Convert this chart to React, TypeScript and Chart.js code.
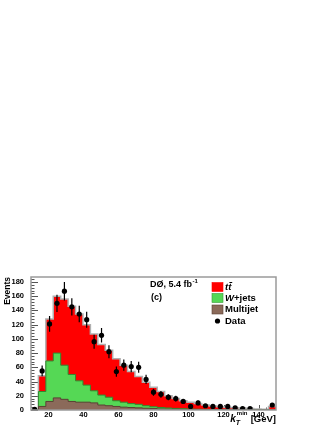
import React, { useEffect, useRef } from "react";
import { Chart, registerables } from "chart.js";

Chart.register(...registerables);

// ---- binning (k_T^min in GeV) ----
const X_MIN = 10;
const X_MAX = 150;
const N_BINS = 33;
const xTickValues = [20, 40, 60, 80, 100, 120, 140];
const yTickValues = [0, 20, 40, 60, 80, 100, 120, 140, 160, 180];
const Y_MAX = 187;

// ---- stacked contributions per bin ----
const multijet = [0, 5, 12, 17, 15, 12, 11, 11, 10, 7, 6, 5, 4, 3.5, 3, 2.5, 2, 1.5, 1.2, 1, 0.8, 0.6, 0.5, 0.4, 0.3, 0.3, 0.2, 0.2, 0.2, 0.1, 0.1, 0.1, 0.3];
const wjets = [0, 21, 57, 63, 48, 38, 30, 24, 17, 14, 12, 8, 7, 5.5, 5, 3.5, 2.5, 2, 1.6, 1.2, 1, 0.8, 0.6, 0.5, 0.4, 0.3, 0.3, 0.2, 0.1, 0.2, 0.1, 0.1, 0.3];
const ttbar = [0, 22, 59, 80, 93, 96, 94, 85, 80, 71, 66, 59, 52, 45, 39, 33, 27.5, 22.5, 17.2, 13.8, 11.2, 9.6, 7.9, 6.1, 4.8, 3.9, 3.0, 2.6, 2.2, 1.7, 1.3, 1.0, 4.4];

// ---- data ----
const dataCounts = [1, 55, 121, 150, 167, 145, 135, 127, 96, 105, 82, 54, 63, 61, 60, 43, 25, 22, 18, 16, 12, 5, 10, 6, 5, 5, 5, 3, 2, 2, null, null, 7];
const dataErrors = [1, 7.4, 11, 12.2, 12.9, 12, 11.6, 11.3, 9.8, 10.2, 9.1, 7.3, 7.9, 7.8, 7.7, 6.6, 5, 4.7, 4.2, 4, 3.5, 2.2, 3.2, 2.4, 2.2, 2.2, 2.2, 1.7, 1.4, 1.4, 0, 0, 2.6];

const FONT = "'Liberation Sans', Arial, Helvetica, sans-serif";
const RED = "#ff0000";
const GREEN = "#55d855";
const BROWN = "#8b6a5a";

const binWidth = (X_MAX - X_MIN) / N_BINS;
const edges = Array.from({ length: N_BINS + 1 }, (_, i) => X_MIN + i * binWidth);
const centers = edges.slice(0, N_BINS).map((e) => e + binWidth / 2);

function cumulative(...series: number[][]) {
  return series[0].map((_, i) => series.reduce((s, arr) => s + arr[i], 0));
}
function stepPoints(vals: number[]) {
  const pts = vals.map((v, i) => ({ x: edges[i], y: v }));
  pts.push({ x: edges[N_BINS], y: vals[N_BINS - 1] });
  return pts;
}

const rootPlugin = {
  id: "rootStyle",
  beforeDatasetsDraw(chart: any) {
    const { ctx, chartArea: a, scales } = chart;
    const x = scales.x;
    const y = scales.y;
    ctx.save();
    ctx.strokeStyle = "#555";
    ctx.lineWidth = 1;
    ctx.beginPath();
    for (let v = 0; v <= Y_MAX; v += 4) {
      const py = Math.round(y.getPixelForValue(v)) + 0.5;
      const len = v % 20 === 0 ? 7 : 3.5;
      ctx.moveTo(a.left, py);
      ctx.lineTo(a.left + len, py);
    }
    for (let v = 12; v < X_MAX; v += 4) {
      const px = Math.round(x.getPixelForValue(v)) + 0.5;
      const len = v % 20 === 0 ? 5 : 2.5;
      ctx.moveTo(px, a.bottom);
      ctx.lineTo(px, a.bottom - len);
    }
    ctx.stroke();
    ctx.restore();
  },
  afterDatasetsDraw(chart: any) {
    const { ctx, chartArea: a, scales } = chart;
    const x = scales.x;
    const y = scales.y;
    ctx.save();
    // error bars
    ctx.strokeStyle = "#000";
    ctx.lineWidth = 1.2;
    ctx.beginPath();
    dataCounts.forEach((c, i) => {
      if (c === null) return;
      const px = x.getPixelForValue(centers[i]);
      const y1 = y.getPixelForValue(Math.max(0, c - dataErrors[i]));
      const y2 = y.getPixelForValue(c + dataErrors[i]);
      ctx.moveTo(px, y1);
      ctx.lineTo(px, y2);
    });
    ctx.stroke();
    // frame
    ctx.strokeStyle = "#9a9a9a";
    ctx.lineWidth = 1.5;
    ctx.strokeRect(a.left, a.top, a.right - a.left, a.bottom - a.top);
    ctx.restore();
  },
  afterDraw(chart: any) {
    const { ctx, chartArea: a } = chart;
    ctx.save();
    ctx.fillStyle = "#000";
    ctx.textBaseline = "middle";
    ctx.textAlign = "left";

    // experiment label
    const bx = a.left + 119;
    ctx.font = `bold 9px ${FONT}`;
    const lbl = "D\u00D8, 5.4 fb";
    ctx.fillText(lbl, bx, a.top + 8);
    const lw = ctx.measureText(lbl).width;
    ctx.font = `bold 6px ${FONT}`;
    ctx.fillText("-1", bx + lw + 0.5, a.top + 4.5);
    ctx.font = `bold 9px ${FONT}`;
    ctx.fillText("(c)", bx + 1, a.top + 21);

    // legend
    const boxX = a.left + 181;
    const textX = a.left + 194;
    const rows = [a.top + 10, a.top + 21, a.top + 32.5, a.top + 44];
    const boxes = [
      { fill: RED, stroke: RED },
      { fill: GREEN, stroke: "#3a9a3a" },
      { fill: BROWN, stroke: "#5a4034" },
    ];
    boxes.forEach((b, i) => {
      ctx.fillStyle = b.fill;
      ctx.fillRect(boxX, rows[i] - 4.5, 11, 9);
      ctx.strokeStyle = b.stroke;
      ctx.lineWidth = 0.6;
      ctx.strokeRect(boxX, rows[i] - 4.5, 11, 9);
    });
    ctx.fillStyle = "#000";
    ctx.font = `italic bold 9.5px ${FONT}`;
    ctx.fillText("tt\u0304", textX, rows[0]);
    ctx.fillText("W", textX, rows[1]);
    const ww = ctx.measureText("W").width;
    ctx.font = `bold 9.5px ${FONT}`;
    ctx.fillText("+jets", textX + ww, rows[1]);
    ctx.fillText("Multijet", textX, rows[2]);
    ctx.fillText("Data", textX, rows[3]);
    ctx.beginPath();
    ctx.arc(boxX + 5.5, rows[3], 2.6, 0, Math.PI * 2);
    ctx.fill();

    // x axis title: k_T^min [GeV], right-aligned to the frame
    const base = a.bottom + 12;
    ctx.textBaseline = "alphabetic";
    ctx.font = `bold 9.5px ${FONT}`;
    const gev = " [GeV]";
    const gw = ctx.measureText(gev).width;
    ctx.font = `bold 6px ${FONT}`;
    const mw = ctx.measureText("min").width;
    ctx.font = `italic bold 7px ${FONT}`;
    const tw = ctx.measureText("T").width;
    ctx.font = `italic bold 10px ${FONT}`;
    const kw = ctx.measureText("k").width;
    let cx = a.right - gw;
    ctx.font = `bold 9.5px ${FONT}`;
    ctx.fillText(gev, cx, base);
    cx -= Math.max(mw, tw) + 0.5;
    ctx.font = `bold 6px ${FONT}`;
    ctx.fillText("min", cx, base - 7);
    ctx.font = `italic bold 7px ${FONT}`;
    ctx.fillText("T", cx - 1, base + 2.5);
    ctx.font = `italic bold 10px ${FONT}`;
    ctx.fillText("k", cx - kw - 1, base);
    ctx.restore();
  },
};

export default function App() {
  const ref = useRef<HTMLCanvasElement | null>(null);

  useEffect(() => {
    if (!ref.current) return;
    const cMulti = cumulative(multijet);
    const cW = cumulative(multijet, wjets);
    const cAll = cumulative(multijet, wjets, ttbar);
    const dataPts = dataCounts
      .map((c, i) => ({ x: centers[i], y: c }))
      .filter((p) => p.y !== null);

    const tickFont = { family: FONT, size: 7.5, weight: "bold" as const };

    const chart = new Chart(ref.current, {
      type: "line",
      data: {
        datasets: [
          {
            label: "Data",
            data: dataPts as any,
            showLine: false,
            pointRadius: 2.6,
            pointBackgroundColor: "#000",
            pointBorderWidth: 0,
            pointHoverRadius: 0,
          },
          {
            label: "Multijet",
            data: stepPoints(cMulti),
            stepped: true,
            fill: "origin",
            backgroundColor: BROWN,
            borderColor: "#5a4034",
            borderWidth: 1,
            pointRadius: 0,
          },
          {
            label: "W+jets",
            data: stepPoints(cW),
            stepped: true,
            fill: "origin",
            backgroundColor: GREEN,
            borderColor: "#2f8a2f",
            borderWidth: 1,
            pointRadius: 0,
          },
          {
            label: "tt\u0304",
            data: stepPoints(cAll),
            stepped: true,
            fill: "origin",
            backgroundColor: RED,
            borderColor: "#b0b0b0",
            borderWidth: 1.5,
            pointRadius: 0,
          },
        ],
      },
      options: {
        responsive: false,
        maintainAspectRatio: false,
        animation: false,
        layout: { padding: { top: 277, right: 56, left: 0, bottom: 0 } },
        plugins: { legend: { display: false }, tooltip: { enabled: false } },
        scales: {
          x: {
            type: "linear",
            min: X_MIN,
            max: X_MAX,
            grid: { display: false, drawTicks: false },
            border: { display: false },
            ticks: { font: tickFont, color: "#000", padding: 0, maxRotation: 0, autoSkip: false },
            afterBuildTicks: (s: any) => {
              s.ticks = xTickValues.map((v) => ({ value: v }));
            },
            afterFit: (s: any) => {
              s.height = 19;
            },
          },
          y: {
            type: "linear",
            min: 0,
            max: Y_MAX,
            grid: { display: false, drawTicks: false },
            border: { display: false },
            ticks: { font: tickFont, color: "#000", padding: 7, autoSkip: false },
            afterBuildTicks: (s: any) => {
              s.ticks = yTickValues.map((v) => ({ value: v }));
            },
            afterFit: (s: any) => {
              s.width = 31;
            },
            title: {
              display: true,
              text: "Events",
              align: "end",
              color: "#000",
              font: { family: FONT, size: 8.5, weight: "bold" },
              padding: { top: 3, bottom: 0 },
            },
          },
        },
      },
      plugins: [rootPlugin],
    });
    return () => chart.destroy();
  }, []);

  return (
    <canvas
      ref={ref}
      width={332}
      height={429}
      style={{ position: "absolute", left: 0, top: 0, display: "block", width: 332, height: 429 }}
    />
  );
}
